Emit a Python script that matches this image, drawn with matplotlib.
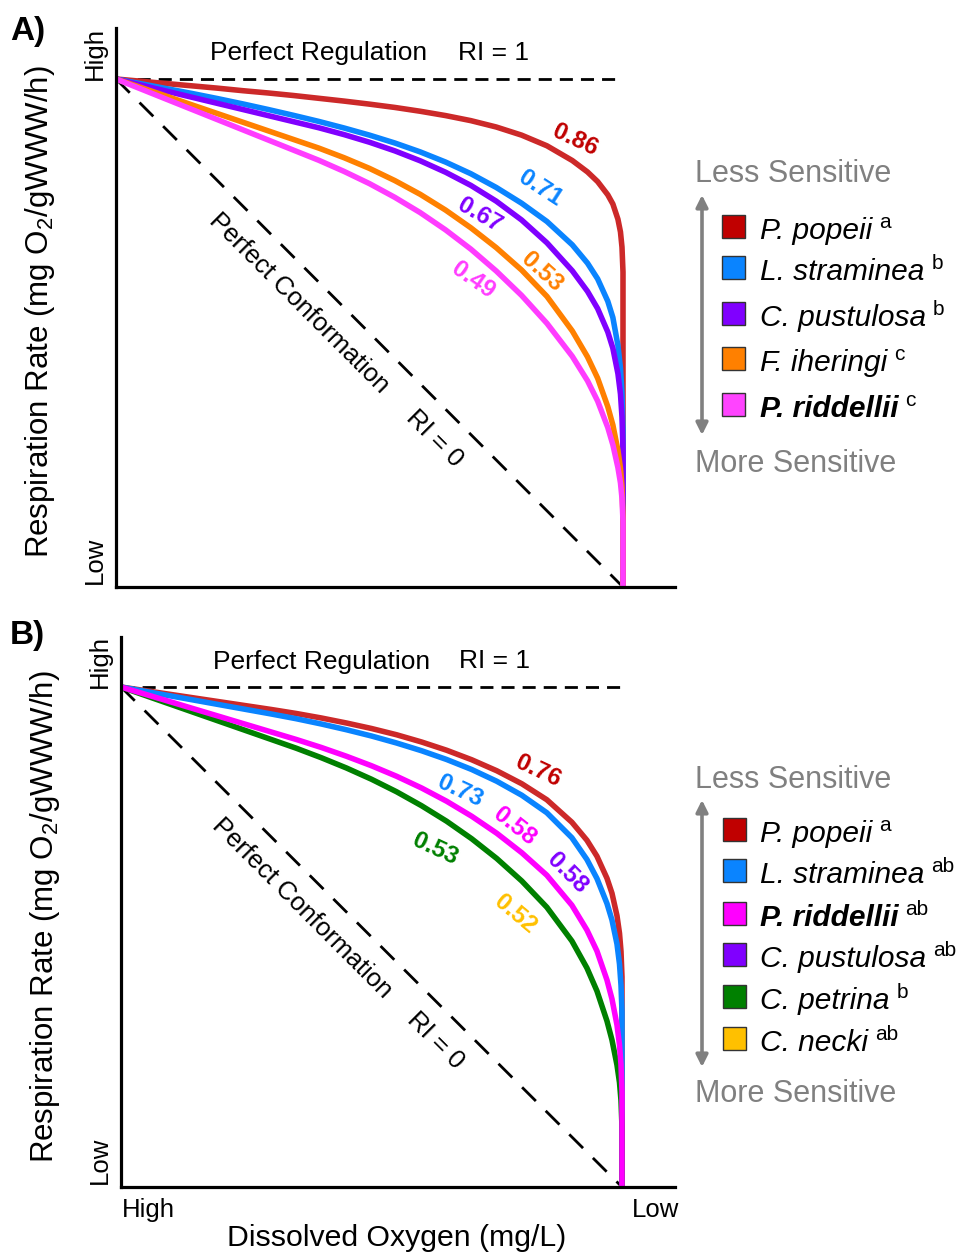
import matplotlib
matplotlib.use('Agg')
import matplotlib.pyplot as plt
from matplotlib.patches import Rectangle

plt.rcParams['font.family'] = ['Liberation Sans', 'DejaVu Sans']
plt.rcParams['mathtext.fontset'] = 'custom'
plt.rcParams['mathtext.rm'] = 'Liberation Sans'

W, H = 962, 1256

# reference lines (x: 0 = high DO, 1 = low DO ; y: 1 = high rate, 0 = low)
regulation_x = [0, 0.997]
regulation_y = [1, 1]
conformation_x = [0, 1]
conformation_y = [1, 0]

# dissolved oxygen positions the curves were read at
do_grid = [0, 0.05, 0.1, 0.15, 0.2, 0.25, 0.3, 0.35, 0.4, 0.45, 0.5, 0.55, 0.6, 0.65, 0.7,
           0.75, 0.8, 0.85, 0.9, 0.93, 0.95, 0.97, 0.98, 0.99, 0.995, 0.998, 1.0, 1.0]

# ---- panel A respiration curves ----
a_red = [1, .9955, .991, .9865, .982, .977, .9725, .9675, .962, .9565, .9505, .944, .9365, .928,
         .918, .9055, .8895, .8685, .8395, .817, .798, .772, .754, .724, .699, .669, .62, 0]
a_blue = [1, .9905, .981, .9715, .9615, .951, .940, .9285, .9165, .9035, .8895, .874, .8565, .8365,
          .8135, .7865, .7555, .7195, .6735, .6375, .6065, .5625, .5305, .4755, .4305, .3825, .31, 0]
a_purple = [1, .988, .976, .964, .952, .940, .928, .916, .904, .8905, .8755, .8585, .839, .8165,
            .7905, .7595, .7225, .6775, .6225, .582, .548, .502, .470, .420, .380, .335, .27, 0]
a_orange = [1, .983, .966, .949, .932, .915, .898, .881, .864, .845, .824, .800, .773, .742,
            .707, .668, .624, .572, .504, .453, .411, .355, .319, .269, .234, .198, .14, 0]
a_pink = [1, .98, .96, .94, .92, .90, .88, .86, .84, .818, .794, .767, .737, .703,
          .665, .622, .574, .519, .454, .406, .366, .314, .280, .235, .205, .175, .13, 0]
a_ri = ['0.86', '0.71', '0.67', '0.53', '0.49']
a_species = ['P. popeii', 'L. straminea', 'C. pustulosa', 'F. iheringi', 'P. riddellii']
a_groups = ['a', 'b', 'b', 'c', 'c']

# ---- panel B respiration curves ----
b_red = [1, .9925, .985, .9775, .970, .9625, .955, .947, .938, .928, .917, .9045, .890, .8735,
         .8545, .8325, .8065, .7745, .7295, .6935, .6615, .6175, .5875, .5425, .5075, .4715, .42, 0]
b_blue = [1, .991, .982, .973, .964, .955, .946, .9365, .926, .9145, .902, .888, .8725, .855,
          .835, .8115, .7835, .7485, .6985, .655, .617, .567, .534, .486, .446, .404, .35, 0]
b_pink = [1, .985, .970, .955, .940, .925, .910, .895, .879, .8615, .8425, .8215, .798, .7715,
          .7415, .7075, .6685, .6235, .5635, .514, .472, .414, .376, .324, .284, .245, .19, 0]
b_green = [1, .9825, .965, .9475, .930, .9125, .895, .8775, .8585, .838, .8155, .7905, .7625, .7315,
           .6965, .657, .612, .5595, .492, .438, .392, .332, .294, .244, .209, .173, .12, 0]
b_ri = ['0.76', '0.73', '0.58', '0.58', '0.53', '0.52']
b_species = ['P. popeii', 'L. straminea', 'P. riddellii', 'C. pustulosa', 'C. petrina', 'C. necki']
b_groups = ['a', 'ab', 'ab', 'ab', 'b', 'ab']

RED, BLUE, PURPLE, ORANGE = '#cc2929', '#0a84ff', '#8000ff', '#ff8000'
PINK_A, PINK_B, GREEN, YELLOW = '#ff3cff', '#ff00ff', '#008000', '#ffc000'
LAB_RED = '#c00000'
GREY = '#808080'

fig = plt.figure(figsize=(W / 100, H / 100), dpi=100)


def panel(rect, xmax, ymax, curves, labels):
    ax = fig.add_axes(rect)
    ax.set_xlim(0, xmax)
    ax.set_ylim(0, ymax)
    for s in ['top', 'right']:
        ax.spines[s].set_visible(False)
    for s in ['left', 'bottom']:
        ax.spines[s].set_linewidth(2.3)
    ax.set_xticks([])
    ax.set_yticks([])
    ax.plot(regulation_x, regulation_y, color='black', lw=2, ls=(0, (4.7, 2.9)))
    ax.plot(conformation_x, conformation_y, color='black', lw=2, ls=(0, (7, 5)))
    for y, c in curves:
        ax.plot(do_grid, y, color=c, lw=4, solid_capstyle='butt', solid_joinstyle='round',
                clip_on=False)
    for txt, (lx, ly), rot, c in labels:
        ax.text(lx, ly, txt, color=c, fontsize=17.5, fontweight='bold', rotation=rot,
                rotation_mode='anchor', ha='center', va='center')
    ax.text(0.40, 1.051, 'Perfect Regulation', fontsize=19, ha='center', va='center')
    ax.text(0.745, 1.051, 'RI = 1', fontsize=19, ha='center', va='center')
    ax.text(0.361, 0.558, 'Perfect Conformation', fontsize=18.5, rotation=-45,
            rotation_mode='anchor', ha='center', va='center')
    ax.text(0.628, 0.292, 'RI = 0', fontsize=18.5, rotation=-45,
            rotation_mode='anchor', ha='center', va='center')
    return ax


axA = panel([116 / W, 1 - 587 / H, 559 / W, 559 / H], 559 / 507, 559 / 508,
            [(a_red, RED), (a_blue, BLUE), (a_purple, PURPLE), (a_orange, ORANGE), (a_pink, PINK_A)],
            [(a_ri[0], (0.905, 0.880), -25, LAB_RED), (a_ri[1], (0.836, 0.785), -33, BLUE),
             (a_ri[2], (0.718, 0.732), -30, PURPLE), (a_ri[3], (0.840, 0.621), -42, ORANGE),
             (a_ri[4], (0.705, 0.604), -35, PINK_A)])

axB = panel([121 / W, 1 - 1187 / H, 554 / W, 550 / H], 554 / 501, 550 / 500,
            [(b_red, RED), (b_blue, BLUE), (b_green, GREEN), (b_pink, PINK_B)],
            [(b_ri[0], (0.833, 0.831), -25, LAB_RED), (b_ri[1], (0.677, 0.791), -25, BLUE),
             (b_ri[2], (0.786, 0.721), -38, PINK_B), (b_ri[3], (0.890, 0.628), -45, PURPLE),
             (b_ri[4], (0.627, 0.675), -25, GREEN), (b_ri[5], (0.786, 0.545), -40, YELLOW)])

# overlay in pixel coordinates for the annotations and legends
lax = fig.add_axes([0, 0, 1, 1])
lax.set_xlim(0, W)
lax.set_ylim(H, 0)
lax.axis('off')
lax.patch.set_alpha(0)

lax.text(10, 16, 'A)', fontsize=24, fontweight='bold', va='top', ha='left')
lax.text(10, 620, 'B)', fontsize=24, fontweight='bold', va='top', ha='left')

ylab = 'Respiration Rate (mg O$_2$/gWWW/h)'
lax.text(40, 312, ylab, fontsize=22.5, rotation=90, ha='center', va='center')
lax.text(45, 917, ylab, fontsize=22.5, rotation=90, ha='center', va='center')
for (x, y) in [(95, 54), (100, 662)]:
    lax.text(x, y, 'High', fontsize=18.5, rotation=90, ha='center', va='center')
for (x, y) in [(95, 560), (100, 1160)]:
    lax.text(x, y, 'Low', fontsize=18.5, rotation=90, ha='center', va='center')
lax.text(148, 1210, 'High', fontsize=18.5, ha='center', va='center')
lax.text(656, 1210, 'Low', fontsize=18.5, ha='center', va='center')
lax.text(397, 1238, 'Dissolved Oxygen (mg/L)', fontsize=21.8, ha='center', va='center')


def legend(top_text_y, bottom_text_y, arrow_x, arrow_y0, arrow_y1, sq_x, sq_tops, sq_size,
           species, groups, colors):
    lax.text(695, top_text_y, 'Less Sensitive', fontsize=22, color=GREY, ha='left', va='baseline')
    lax.text(695, bottom_text_y, 'More Sensitive', fontsize=22, color=GREY, ha='left', va='baseline')
    lax.annotate('', xy=(arrow_x, arrow_y0), xytext=(arrow_x, arrow_y1),
                 arrowprops=dict(arrowstyle='<|-|>,head_length=0.7,head_width=0.35',
                                 color=GREY, lw=2.6, shrinkA=0, shrinkB=0))
    for top, name, grp, c in zip(sq_tops, species, groups, colors):
        lax.add_patch(Rectangle((sq_x, top), sq_size, sq_size, facecolor=c,
                                edgecolor='#333333', lw=1))
        bold = name == 'P. riddellii'
        t = lax.text(760, top + sq_size + 1, name, fontsize=21.5, style='italic',
                     fontweight='bold' if bold else 'normal', ha='left', va='baseline')
        lax.annotate(grp, xy=(1, 1), xycoords=t, xytext=(5, 3), textcoords='offset points',
                     fontsize=15, ha='left', va='top')


legend(182, 472, 702, 195, 435, 722, [215, 256, 302, 347, 393], 23,
       a_species, a_groups, [LAB_RED, BLUE, PURPLE, ORANGE, '#ff44ff'])
legend(788, 1102, 702, 800, 1067, 723, [818, 859, 902, 943, 985, 1027], 23,
       b_species, b_groups, [LAB_RED, BLUE, PINK_B, PURPLE, GREEN, YELLOW])

fig.savefig('out.png', dpi=100)
